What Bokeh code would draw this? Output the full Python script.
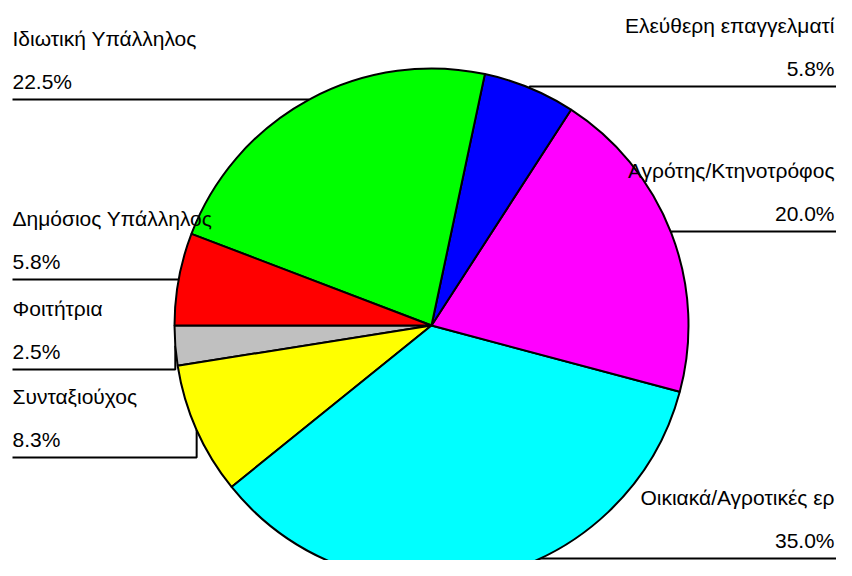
import math
from bokeh.plotting import figure
from bokeh.models import Range1d, ColumnDataSource
from bokeh.embed import file_html
from bokeh.resources import INLINE
from bokeh.core.properties import value

# ---- data ----
categories = ["Φοιτήτρια", "Συνταξιούχος", "Οικιακά/Αγροτικές ερ",
              "Αγρότης/Κτηνοτρόφος", "Ελεύθερη επαγγελματί",
              "Ιδιωτική Υπάλληλος", "Δημόσιος Υπάλληλος"]
values = [2.5, 8.3, 35.0, 20.0, 5.8, 22.5, 5.8]
colors = ["#C0C0C0", "#FFFF00", "#00FFFF", "#FF00FF", "#0000FF", "#00FF00", "#FF0000"]

# ---- layout (picture pixel coordinates, y measured downward) ----
W, H = 836, 560
CX, CY, R = 431, 325, 257
START_DEG = 180.0
sides = ["left", "left", "right", "right", "right", "left", "left"]
line_y = [369, 457, 558, 231, 86, 99, 279]
LEFT_X, RIGHT_X, RIGHT_LINE_X = 12, 834, 840
NAME_OFF, PCT_OFF = 61, 18
FONT = "Liberation Sans"
FSIZE = "21px"


def Y(py):
    # picture y (downward) -> data y (upward)
    return H - py


total = sum(values)
starts, ends, mids = [], [], []
a = math.radians(START_DEG)
for v in values:
    d = v / total * 2 * math.pi
    starts.append(a)
    ends.append(a + d)
    mids.append(a + d / 2)
    a += d

p = figure(width=W, height=H, x_range=Range1d(0, W), y_range=Range1d(0, H),
           x_axis_type=None, y_axis_type=None, output_backend="svg",
           toolbar_location=None, min_border=0)
p.grid.visible = False
p.outline_line_color = None
p.background_fill_color = "white"
p.border_fill_color = "white"

# leader lines
xs, ys = [], []
for side, ly, m in zip(sides, line_y, mids):
    mx = CX + R * math.cos(m)
    my = Y(CY) + R * math.sin(m)
    x0 = LEFT_X if side == "left" else RIGHT_LINE_X
    xs.append([x0, mx, mx])
    ys.append([Y(ly), Y(ly), my])
p.multi_line(xs=xs, ys=ys, line_color="black", line_width=2)

# pie
src = ColumnDataSource(dict(start=starts, end=ends, color=colors))
p.wedge(x=CX, y=Y(CY), radius=R, start_angle="start", end_angle="end",
        fill_color="color", line_color="black", line_width=2, source=src)

# labels
for side_name, align, tx in (("left", "left", LEFT_X), ("right", "right", RIGHT_X)):
    idx = [i for i, s in enumerate(sides) if s == side_name]
    names = dict(x=[tx] * len(idx), y=[Y(line_y[i] - NAME_OFF) for i in idx],
                 t=[categories[i] for i in idx])
    pcts = dict(x=[tx] * len(idx), y=[Y(line_y[i] - PCT_OFF) for i in idx],
                t=[f"{values[i]:.1f}%" for i in idx])
    for d in (names, pcts):
        p.text(x="x", y="y", text="t", source=ColumnDataSource(d),
               text_font=value(FONT), text_font_size=FSIZE, text_color="black",
               text_align=align, text_baseline="alphabetic")

open("out.html", "w").write(file_html(p, INLINE))
